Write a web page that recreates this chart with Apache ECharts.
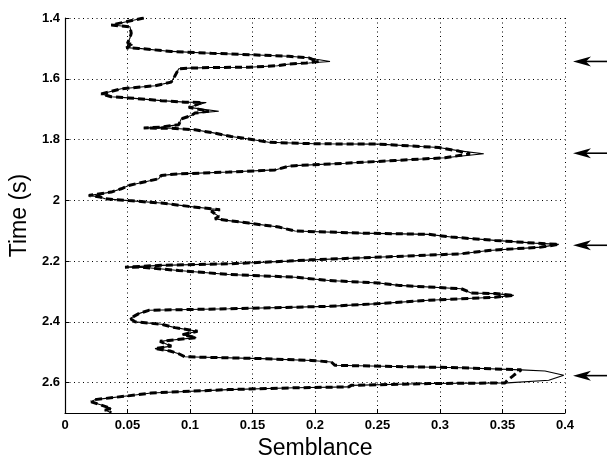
<!DOCTYPE html>
<html>
<head>
<meta charset="utf-8">
<script src="https://cdn.jsdelivr.net/npm/echarts@6/dist/echarts.min.js"></script>
<style>
  html, body { margin: 0; padding: 0; background: #fff; }
  #chart { width: 607px; height: 460px; }
</style>
</head>
<body>
<div id="chart"></div>
<script>
// Time samples (s), shared by both semblance traces
const timeS = [
  1.400, 1.423, 1.429, 1.450, 1.466, 1.483, 1.488, 1.498, 1.500, 1.510,
  1.516, 1.521, 1.526, 1.531, 1.536, 1.543, 1.548, 1.552, 1.557, 1.562,
  1.563, 1.565, 1.567, 1.590, 1.611, 1.623, 1.633, 1.650, 1.659, 1.663,
  1.672, 1.677, 1.678, 1.694, 1.707, 1.713, 1.721, 1.732, 1.751, 1.759,
  1.762, 1.763, 1.768, 1.779, 1.790, 1.798, 1.809, 1.814, 1.815, 1.823,
  1.826, 1.838, 1.847, 1.860, 1.869, 1.878, 1.886, 1.888, 1.900, 1.907,
  1.913, 1.918, 1.929, 1.951, 1.962, 1.973, 1.984, 1.989, 1.995, 2.001,
  2.009, 2.020, 2.028, 2.031, 2.036, 2.053, 2.061, 2.075, 2.088, 2.101,
  2.108, 2.112, 2.121, 2.132, 2.141, 2.145, 2.154, 2.165, 2.176, 2.185,
  2.196, 2.200, 2.209, 2.214, 2.220, 2.221, 2.231, 2.244, 2.253, 2.264,
  2.272, 2.280, 2.291, 2.305, 2.307, 2.313, 2.319, 2.329, 2.340, 2.349,
  2.357, 2.362, 2.373, 2.389, 2.400, 2.408, 2.419, 2.431, 2.442, 2.452,
  2.464, 2.480, 2.488, 2.496, 2.505, 2.515, 2.521, 2.527, 2.532, 2.543,
  2.547, 2.551, 2.558, 2.562, 2.576, 2.592, 2.601, 2.603, 2.609, 2.614,
  2.617, 2.623, 2.634, 2.641, 2.656, 2.663, 2.674, 2.685, 2.690, 2.699
];

// Semblance, solid trace
const semblanceSolid = [
  0.063, 0.037, 0.052, 0.053, 0.052, 0.050, 0.054, 0.049, 0.059, 0.085,
  0.117, 0.149, 0.179, 0.195, 0.201, 0.212, 0.195, 0.178, 0.170, 0.147,
  0.117, 0.099, 0.091, 0.088, 0.085, 0.072, 0.045, 0.029, 0.037, 0.051,
  0.077, 0.096, 0.113, 0.099, 0.123, 0.104, 0.101, 0.093, 0.091, 0.077,
  0.063, 0.085, 0.104, 0.120, 0.133, 0.147, 0.163, 0.200, 0.251, 0.285,
  0.299, 0.317, 0.335, 0.304, 0.264, 0.224, 0.184, 0.179, 0.168, 0.131,
  0.091, 0.077, 0.075, 0.051, 0.045, 0.037, 0.019, 0.028, 0.032, 0.051,
  0.077, 0.099, 0.117, 0.124, 0.117, 0.123, 0.120, 0.147, 0.171, 0.184,
  0.237, 0.291, 0.309, 0.344, 0.376, 0.395, 0.381, 0.339, 0.317, 0.264,
  0.197, 0.179, 0.131, 0.077, 0.048, 0.064, 0.091, 0.131, 0.184, 0.211,
  0.251, 0.267, 0.317, 0.325, 0.344, 0.359, 0.344, 0.291, 0.251, 0.211,
  0.131, 0.067, 0.059, 0.052, 0.056, 0.077, 0.088, 0.106, 0.094, 0.105,
  0.076, 0.085, 0.072, 0.084, 0.091, 0.096, 0.157, 0.197, 0.213, 0.216,
  0.264, 0.317, 0.365, 0.384, 0.399, 0.387, 0.354, 0.291, 0.229, 0.227,
  0.184, 0.131, 0.069, 0.056, 0.024, 0.021, 0.029, 0.037, 0.032, 0.037
];

// Semblance, dashed trace
const semblanceDashed = [
  0.063, 0.037, 0.052, 0.053, 0.052, 0.050, 0.054, 0.049, 0.059, 0.085,
  0.117, 0.149, 0.179, 0.195, 0.198, 0.203, 0.193, 0.178, 0.170, 0.147,
  0.117, 0.099, 0.091, 0.088, 0.085, 0.072, 0.045, 0.029, 0.037, 0.051,
  0.077, 0.096, 0.110, 0.099, 0.115, 0.104, 0.101, 0.093, 0.091, 0.077,
  0.063, 0.085, 0.104, 0.120, 0.133, 0.147, 0.163, 0.200, 0.251, 0.285,
  0.299, 0.315, 0.324, 0.304, 0.264, 0.224, 0.184, 0.179, 0.168, 0.131,
  0.091, 0.077, 0.075, 0.051, 0.045, 0.037, 0.019, 0.028, 0.032, 0.051,
  0.077, 0.099, 0.117, 0.124, 0.117, 0.123, 0.120, 0.147, 0.171, 0.184,
  0.237, 0.291, 0.309, 0.344, 0.376, 0.395, 0.381, 0.339, 0.317, 0.264,
  0.197, 0.179, 0.131, 0.077, 0.048, 0.064, 0.091, 0.131, 0.184, 0.211,
  0.251, 0.267, 0.317, 0.325, 0.344, 0.359, 0.344, 0.291, 0.251, 0.211,
  0.131, 0.067, 0.059, 0.052, 0.056, 0.077, 0.088, 0.106, 0.094, 0.105,
  0.076, 0.085, 0.072, 0.084, 0.091, 0.096, 0.157, 0.197, 0.213, 0.216,
  0.264, 0.317, 0.365, 0.364, 0.359, 0.354, 0.352, 0.291, 0.229, 0.227,
  0.184, 0.131, 0.069, 0.056, 0.024, 0.021, 0.029, 0.037, 0.032, 0.037
];

// Times of the highlighted events, marked by arrows right of the plot
const arrowTimes = [1.543, 1.845, 2.148, 2.577];

// Axis ranges and tick steps
const xRange = [0, 0.4];
const xStep = 0.05;
const yRange = [1.4, 2.7];
const yStep = 0.2;

const pairs = (xs) => xs.map((x, i) => [x, timeS[i]]);

const chart = echarts.init(document.getElementById('chart'), null, { renderer: 'canvas' });

const gridDots = { show: true, lineStyle: { color: '#000', width: 1, type: [1, 3.5] } };
const fontFam = '"Liberation Sans", Arial, Helvetica, sans-serif';

chart.setOption({
  animation: false,
  backgroundColor: '#fff',
  grid: { left: 65, right: 42, top: 18, bottom: 47, containLabel: false, outerBoundsMode: 'none' },
  xAxis: {
    type: 'value',
    min: xRange[0], max: xRange[1], interval: xStep,
    name: 'Semblance',
    nameLocation: 'middle',
    nameGap: 24,
    nameTextStyle: { fontFamily: fontFam, fontSize: 23, color: '#000' },
    axisLine: { show: true, onZero: false, lineStyle: { color: '#000', width: 1.2 } },
    axisTick: { show: true, inside: true, length: 4, lineStyle: { color: '#000' } },
    axisLabel: { color: '#000', fontFamily: fontFam, fontSize: 13, fontWeight: 'bold', margin: 6 },
    splitLine: gridDots
  },
  yAxis: {
    type: 'value',
    inverse: true,
    min: yRange[0], max: yRange[1], interval: yStep,
    name: 'Time (s)',
    nameLocation: 'middle',
    nameGap: 34,
    nameRotate: 90,
    nameTextStyle: { fontFamily: fontFam, fontSize: 23, color: '#000' },
    axisLine: { show: true, onZero: false, lineStyle: { color: '#000', width: 1.2 } },
    axisTick: { show: true, inside: true, length: 4, lineStyle: { color: '#000' } },
    axisLabel: { color: '#000', fontFamily: fontFam, fontSize: 13, fontWeight: 'bold', margin: 5, showMaxLabel: false },
    splitLine: gridDots
  },
  series: [
    {
      name: 'solid',
      type: 'line',
      data: pairs(semblanceSolid),
      showSymbol: false,
      symbol: 'none',
      lineStyle: { color: '#000', width: 1.1, type: 'solid' },
      z: 3
    },
    {
      name: 'dashed',
      type: 'line',
      data: pairs(semblanceDashed),
      showSymbol: false,
      symbol: 'none',
      lineStyle: { color: '#000', width: 3, type: [7, 4] },
      z: 4
    },
    {
      name: 'arrows',
      type: 'custom',
      clip: false,
      data: arrowTimes.map(t => [xRange[1], t]),
      renderItem: function (params, api) {
        const p = api.coord([api.value(0), api.value(1)]);
        const x0 = p[0] + 8;
        const y = p[1];
        return {
          type: 'group',
          children: [
            {
              type: 'line',
              shape: { x1: x0 + 10, y1: y, x2: x0 + 36, y2: y },
              style: { stroke: '#000', lineWidth: 1.6 }
            },
            {
              type: 'polygon',
              shape: { points: [[x0, y], [x0 + 18, y - 5], [x0 + 13, y], [x0 + 18, y + 5]] },
              style: { fill: '#000' }
            }
          ]
        };
      },
      z: 5
    }
  ]
});
</script>
</body>
</html>
